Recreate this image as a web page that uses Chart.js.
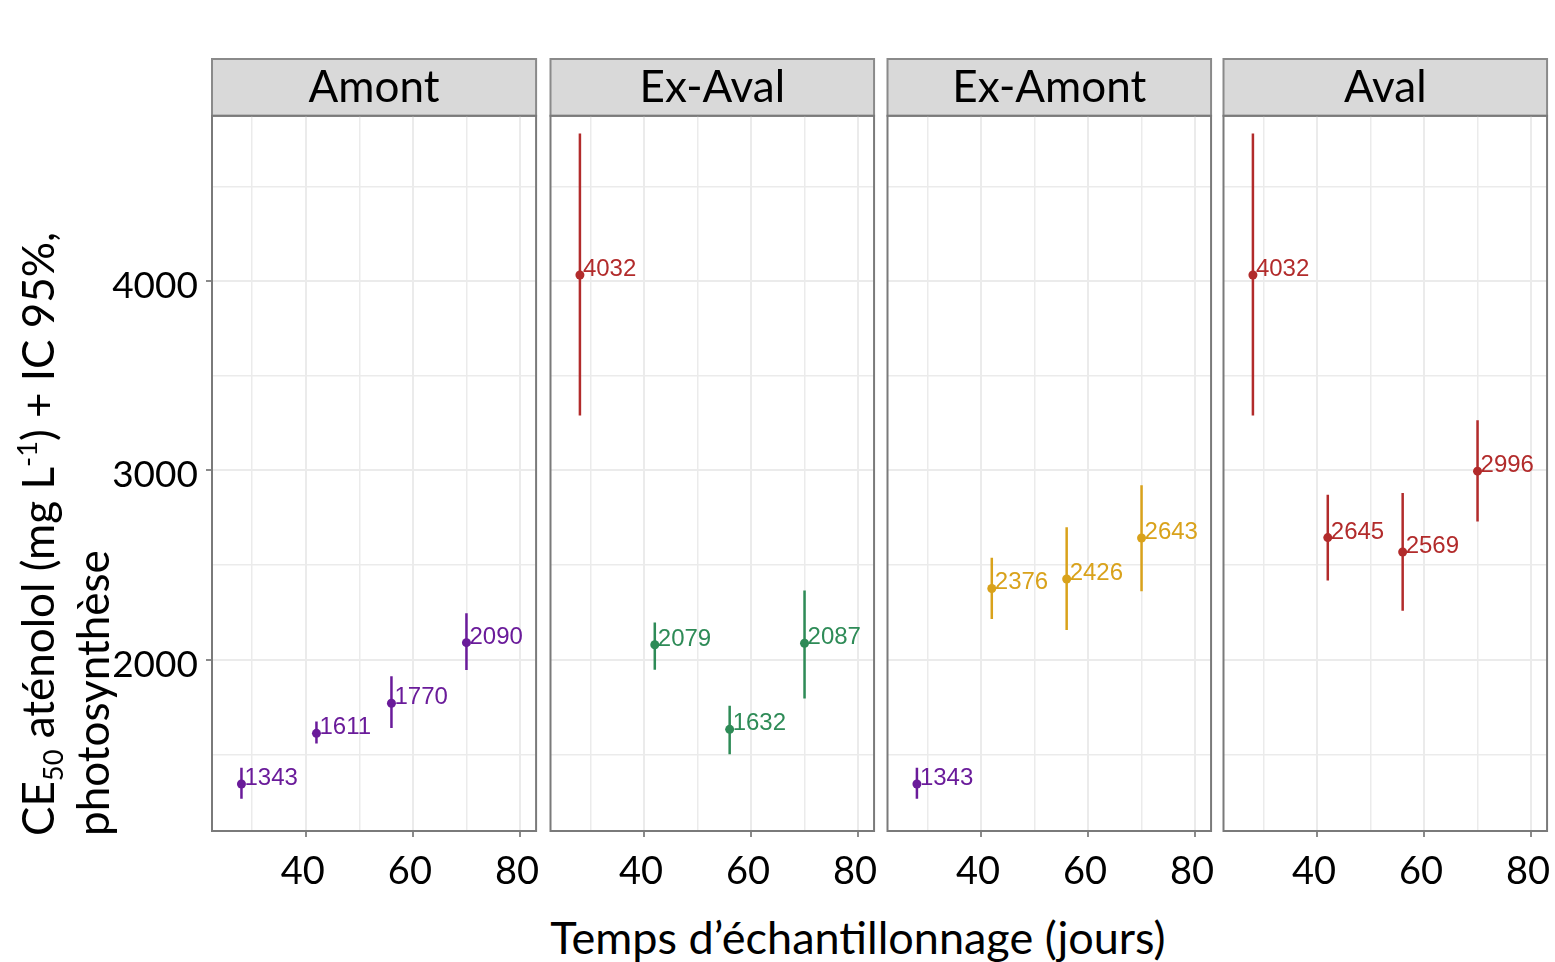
<!DOCTYPE html>
<html><head><meta charset="utf-8">
<script src="https://cdn.jsdelivr.net/npm/chart.js@4.4.0/dist/chart.umd.min.js"></script>
<style>
html,body{margin:0;padding:0;background:#fff;}
#wrap{position:relative;width:1555px;height:962px;overflow:hidden;background:#fff;font-family:Lato,"Open Sans",sans-serif;color:#000;}
canvas{position:absolute;}
#ytitle{position:absolute;left:13px;top:836px;transform-origin:0 0;transform:rotate(-90deg);white-space:nowrap;font-size:44px;line-height:48px;}
#ytitle .sub{font-size:0.62em;position:relative;top:0.32em;}
#ytitle .sup{font-size:0.62em;position:relative;top:-0.62em;}
#xtitle{position:absolute;left:358px;width:1000px;top:910px;text-align:center;white-space:nowrap;font-size:45px;line-height:54px;}
</style></head>
<body><div id="wrap">
<canvas id="c0"></canvas><canvas id="c1"></canvas><canvas id="c2"></canvas><canvas id="c3"></canvas>
<div id="ytitle">CE<span class="sub">50</span> aténolol (mg L<span class="sup">-1</span>) + IC 95%,<br>photosynthèse</div>
<div id="xtitle">Temps d’échantillonnage (jours)</div>
</div>
<script>
// ---------- data ----------
const PANELS = ['Amont', 'Ex-Aval', 'Ex-Amont', 'Aval'];
const DAYS = [28, 42, 56, 70];

const AMONT_CE50 = [1343, 1611, 1770, 2090];
const AMONT_LOW  = [1265, 1557, 1639, 1946];
const AMONT_HIGH = [1429, 1674, 1912, 2245];
const AMONT_GROUP = ['Amont', 'Amont', 'Amont', 'Amont'];

const EXAVAL_CE50 = [4032, 2079, 1632, 2087];
const EXAVAL_LOW  = [3290, 1947, 1501, 1795];
const EXAVAL_HIGH = [4780, 2197, 1757, 2365];
const EXAVAL_GROUP = ['Aval', 'Ex-Aval', 'Ex-Aval', 'Ex-Aval'];

const EXAMONT_CE50 = [1343, 2376, 2426, 2643];
const EXAMONT_LOW  = [1265, 2215, 2157, 2361];
const EXAMONT_HIGH = [1429, 2538, 2700, 2921];
const EXAMONT_GROUP = ['Amont', 'Ex-Amont', 'Ex-Amont', 'Ex-Amont'];

const AVAL_CE50 = [4032, 2645, 2569, 2996];
const AVAL_LOW  = [3290, 2418, 2259, 2730];
const AVAL_HIGH = [4780, 2871, 2880, 3265];
const AVAL_GROUP = ['Aval', 'Aval', 'Aval', 'Aval'];

const X_TICKS = [30, 40, 50, 60, 70, 80];
const X_LABELS = [40, 60, 80];
const Y_TICKS = [1500, 2000, 2500, 3000, 3500, 4000, 4500];
const Y_LABELS = [2000, 3000, 4000];

// ---------- styles / layout ----------
const GROUP_COLORS = {'Amont': '#6a1b9a', 'Aval': '#b22b2b', 'Ex-Aval': '#2e8b57', 'Ex-Amont': '#d9a21b'};
const SERIES = [
  {ce: AMONT_CE50, lo: AMONT_LOW, hi: AMONT_HIGH, g: AMONT_GROUP},
  {ce: EXAVAL_CE50, lo: EXAVAL_LOW, hi: EXAVAL_HIGH, g: EXAVAL_GROUP},
  {ce: EXAMONT_CE50, lo: EXAMONT_LOW, hi: EXAMONT_HIGH, g: EXAMONT_GROUP},
  {ce: AVAL_CE50, lo: AVAL_LOW, hi: AVAL_HIGH, g: AVAL_GROUP}
];
const PLOT_LEFT = [212, 550, 887, 1223];
const PLOT_W = 325;
const TOP = 58, PLOT_BOTTOM = 831, XAXIS_H = 60;
const YAXIS_W = 112, PADL = 4, PADR = 18;
const FONT = 'Lato, "Open Sans", sans-serif';

const stripPlugin = {
  id: 'strip',
  beforeDraw(chart) {
    const tb = chart.titleBlock, ca = chart.chartArea, ctx = chart.ctx;
    ctx.save();
    ctx.fillStyle = '#d9d9d9';
    ctx.fillRect(ca.left, tb.top + 1, ca.right - ca.left, tb.bottom - tb.top - 1);
    ctx.strokeStyle = '#8a8a8a'; ctx.lineWidth = 2;
    ctx.strokeRect(ca.left, tb.top + 1, ca.right - ca.left, tb.bottom - tb.top - 1);
    ctx.restore();
  },
  afterDraw(chart) {
    const ca = chart.chartArea, ctx = chart.ctx;
    ctx.save();
    ctx.strokeStyle = '#7a7a7a'; ctx.lineWidth = 2;
    ctx.strokeRect(ca.left, ca.top, ca.right - ca.left, ca.bottom - ca.top);
    ctx.restore();
  }
};
const labelPlugin = {
  id: 'ptlabels',
  afterDatasetsDraw(chart) {
    const ctx = chart.ctx, meta = chart.getDatasetMeta(0), ds = chart.data.datasets[0];
    ctx.save();
    ctx.font = '24px "Liberation Sans", Arial, sans-serif';
    ctx.textAlign = 'left'; ctx.textBaseline = 'alphabetic';
    meta.data.forEach((el, i) => {
      ctx.fillStyle = ds.pointBackgroundColor[i];
      ctx.fillText(String(ds.data[i].y), el.x + 3, el.y + 1);
    });
    ctx.restore();
  }
};

SERIES.forEach((s, p) => {
  const first = p === 0;
  const cv = document.getElementById('c' + p);
  const left = first ? PLOT_LEFT[p] - YAXIS_W : PLOT_LEFT[p] - PADL;
  const w = (PLOT_LEFT[p] + PLOT_W + PADR) - left;
  const h = PLOT_BOTTOM + XAXIS_H - TOP;
  cv.style.left = left + 'px'; cv.style.top = TOP + 'px';
  cv.style.width = w + 'px'; cv.style.height = h + 'px';
  cv.width = w; cv.height = h;

  const colors = s.g.map(g => GROUP_COLORS[g]);
  const datasets = [{
    type: 'scatter',
    data: DAYS.map((d, i) => ({x: d, y: s.ce[i]})),
    pointBackgroundColor: colors,
    pointBorderColor: colors,
    pointBorderWidth: 0,
    pointRadius: 4.5,
    order: 0
  }];
  DAYS.forEach((d, i) => {
    datasets.push({
      type: 'line',
      data: [{x: d, y: s.lo[i]}, {x: d, y: s.hi[i]}],
      borderColor: colors[i], borderWidth: 2.5, pointRadius: 0,
      showLine: true, order: 1
    });
  });

  new Chart(cv, {
    type: 'scatter',
    data: {datasets},
    plugins: [stripPlugin, labelPlugin],
    options: {
      responsive: false, animation: false, events: [],
      layout: {padding: {left: first ? 0 : PADL, right: PADR, top: 0, bottom: 0}},
      plugins: {
        legend: {display: false}, tooltip: {enabled: false},
        title: {display: true, text: PANELS[p], fullSize: false, color: '#000',
                font: {family: FONT, size: 44, weight: 'normal', lineHeight: 1.2},
                padding: {top: 3, bottom: 2}}
      },
      scales: {
        x: {
          type: 'linear', min: 22.5, max: 83,
          afterBuildTicks: sc => { sc.ticks = X_TICKS.map(v => ({value: v})); },
          afterFit: sc => { sc.height = XAXIS_H; },
          border: {display: false},
          grid: {
            color: '#ebebeb',
            lineWidth: c => (c.tick && X_LABELS.includes(c.tick.value)) ? 2 : 1.5,
            tickLength: 6,
            tickColor: c => (c.tick && X_LABELS.includes(c.tick.value)) ? '#8a8a8a' : 'rgba(0,0,0,0)',
            tickWidth: 2
          },
          ticks: {
            autoSkip: false, maxRotation: 0, minRotation: 0, padding: 12, labelOffset: -3,
            color: '#000', font: {family: FONT, size: 38},
            callback: v => X_LABELS.includes(v) ? String(v) : ''
          }
        },
        y: {
          type: 'linear', min: 1095, max: 4873,
          afterBuildTicks: sc => { sc.ticks = Y_TICKS.map(v => ({value: v})); },
          afterFit: sc => { sc.width = first ? YAXIS_W : 0; },
          border: {display: false},
          grid: {
            color: '#ebebeb',
            lineWidth: c => (c.tick && Y_LABELS.includes(c.tick.value)) ? 2 : 1.5,
            drawTicks: first, tickLength: first ? 6 : 0,
            tickColor: c => (c.tick && Y_LABELS.includes(c.tick.value)) ? '#8a8a8a' : 'rgba(0,0,0,0)',
            tickWidth: 2
          },
          ticks: {
            display: first, padding: 8, labelOffset: 5,
            color: '#000', font: {family: FONT, size: 37},
            callback: v => Y_LABELS.includes(v) ? String(v) : ''
          }
        }
      }
    }
  });
});
</script>
</body></html>
